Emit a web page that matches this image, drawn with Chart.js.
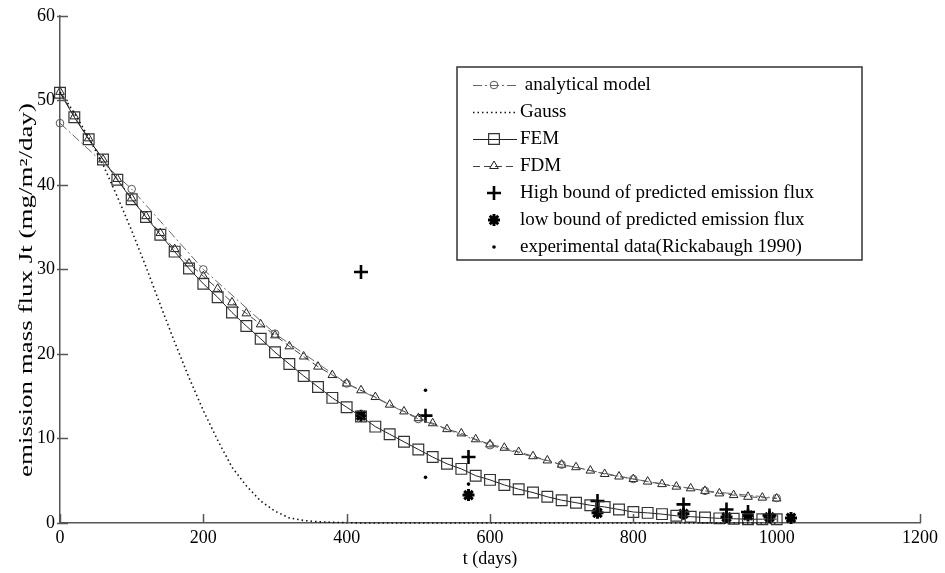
<!DOCTYPE html>
<html>
<head>
<meta charset="utf-8">
<script src="https://cdn.jsdelivr.net/npm/chart.js@4.4.0/dist/chart.umd.min.js"></script>
<style>
  html, body { margin: 0; padding: 0; background: #fff; }
</style>
</head>
<body>
<canvas id="flux" width="945" height="573"></canvas>
<script>
// DATA
const analyticDays = [0, 100, 200, 300, 400, 500, 600, 700, 800, 900, 1000];
const analyticFlux = [47.3, 39.5, 30.0, 22.4, 16.5, 12.3, 9.2, 6.9, 5.2, 3.8, 2.95];

const gridDays = [0, 20, 40, 60, 80, 100, 120, 140, 160, 180, 200, 220, 240, 260, 280, 300, 320, 340, 360, 380,
  400, 420, 440, 460, 480, 500, 520, 540, 560, 580, 600, 620, 640, 660, 680, 700, 720, 740, 760, 780,
  800, 820, 840, 860, 880, 900, 920, 940, 960, 980, 1000];

const gaussFlux = [51.0, 48.5, 45.6, 42.4, 38.6, 34.6, 30.3, 25.8, 21.4, 17.2, 13.3, 9.8, 6.6, 4.4, 2.6, 1.4, 0.6, 0.3, 0.15, 0.08,
  0.04, 0, 0, 0, 0, 0, 0, 0, 0, 0, 0, 0, 0, 0, 0, 0, 0, 0, 0, 0,
  0, 0, 0, 0, 0, 0, 0, 0, 0, 0, 0];

const femFlux = [50.9, 48.0, 45.4, 43.0, 40.6, 38.3, 36.2, 34.1, 32.1, 30.1, 28.3, 26.7, 24.9, 23.3, 21.8, 20.2, 18.8, 17.4, 16.1, 14.8,
  13.7, 12.6, 11.4, 10.5, 9.6, 8.7, 7.8, 7.0, 6.4, 5.6, 5.1, 4.5, 4.0, 3.6, 3.1, 2.7, 2.4, 2.1, 1.9, 1.6,
  1.3, 1.2, 1.05, 0.85, 0.75, 0.65, 0.55, 0.5, 0.45, 0.45, 0.45];

const fdmFlux = [51.0, 48.1, 45.5, 43.0, 40.7, 38.4, 36.3, 34.3, 32.4, 30.7, 29.2, 27.7, 26.1, 24.8, 23.5, 22.2, 20.9, 19.7, 18.5, 17.5,
  16.5, 15.7, 14.9, 14.0, 13.2, 12.4, 11.8, 11.1, 10.6, 9.9, 9.3, 8.9, 8.4, 7.9, 7.4, 6.9, 6.6, 6.2, 5.8, 5.5,
  5.2, 4.9, 4.6, 4.3, 4.1, 3.8, 3.5, 3.3, 3.1, 3.0, 2.9];

const highDays = [420, 510, 570, 750, 870, 930, 960, 990];
const highFlux = [29.7, 12.7, 7.8, 2.6, 2.2, 1.6, 1.3, 0.9];

const lowDays = [420, 570, 750, 870, 930, 960, 990, 1020];
const lowFlux = [12.7, 3.3, 1.2, 1.1, 0.7, 0.9, 0.7, 0.6];

const expDays = [510, 510, 570];
const expFlux = [15.7, 5.4, 4.6];

const xTicks = [0, 200, 400, 600, 800, 1000, 1200];
const yTicks = [0, 10, 20, 30, 40, 50, 60];

const legendLabels = [" analytical model", "Gauss", "FEM", "FDM",
  "High bound of predicted emission flux", "low bound of predicted emission flux",
  "experimental data(Rickabaugh 1990)"];

const yTitle = "emission mass flux Jt (mg/m²/day)";

function pts(xs, ys) {
  return xs.map((x, i) => ({ x: x, y: ys[i] }));
}

const serif = "'Liberation Serif', 'DejaVu Serif', serif";

// inward ticks on both axes + stretched y title
const axisExtras = {
  id: "axisExtras",
  afterDraw(chart) {
    const ctx = chart.ctx;
    const xs = chart.scales.x, ys = chart.scales.y;
    const { left, bottom } = chart.chartArea;
    ctx.save();
    ctx.strokeStyle = "#555";
    ctx.lineWidth = 1.5;
    xTicks.forEach(v => {
      const px = Math.round(xs.getPixelForValue(v)) + 0.5;
      ctx.beginPath();
      ctx.moveTo(px, bottom);
      ctx.lineTo(px, bottom - 9);
      ctx.stroke();
    });
    yTicks.forEach(v => {
      const py = Math.round(ys.getPixelForValue(v)) + 0.5;
      ctx.beginPath();
      ctx.moveTo(left - 3, py);
      ctx.lineTo(left + 8, py);
      ctx.stroke();
    });
    ctx.restore();

    ctx.save();
    ctx.translate(27, 290);
    ctx.rotate(-Math.PI / 2);
    ctx.scale(1.5, 1);
    ctx.font = "18px " + serif;
    ctx.fillStyle = "#000";
    ctx.textAlign = "center";
    ctx.textBaseline = "middle";
    ctx.fillText(yTitle, 0, 0);
    ctx.restore();
  }
};

// boxed legend inside the plot
const boxLegend = {
  id: "boxLegend",
  afterDraw(chart) {
    const ctx = chart.ctx;
    const left = 457, top = 67, right = 862, bottom = 260;
    ctx.save();
    ctx.strokeStyle = "#333";
    ctx.lineWidth = 1.5;
    ctx.strokeRect(left, top, right - left, bottom - top);
    const rowY = [85, 112, 139, 166, 193, 220, 247];
    ctx.font = "19px " + serif;
    ctx.textBaseline = "middle";
    chart.data.datasets.forEach((ds, i) => {
      const y = rowY[i];
      const x0 = 473, x1 = 517, xm = 494;
      ctx.save();
      if (ds.showLine) {
        ctx.strokeStyle = ds.borderColor;
        ctx.lineWidth = ds.borderWidth;
        ctx.setLineDash(ds.borderDash || []);
        ctx.beginPath();
        ctx.moveTo(x0, y + 0.5);
        ctx.lineTo(x1, y + 0.5);
        ctx.stroke();
      }
      ctx.setLineDash([]);
      if (ds.pointRadius > 0) {
        ctx.strokeStyle = ds.pointBorderColor;
        ctx.fillStyle = ds.pointBackgroundColor;
        ctx.lineWidth = ds.pointBorderWidth;
        Chart.helpers.drawPoint(ctx, {
          pointStyle: ds.pointStyle, radius: ds.pointRadius,
          borderWidth: ds.pointBorderWidth, rotation: 0
        }, xm, y);
      }
      ctx.restore();
      ctx.fillStyle = "#000";
      ctx.fillText(legendLabels[i], 520, y);
    });
    ctx.restore();
  }
};

const fluxChart = new Chart(document.getElementById("flux").getContext("2d"), {
  type: "scatter",
  data: {
    datasets: [
      {
        label: legendLabels[0],
        data: pts(analyticDays, analyticFlux),
        showLine: true,
        borderColor: "#666",
        borderWidth: 1,
        borderDash: [9, 3, 2, 3],
        pointStyle: "circle",
        pointRadius: 3.8,
        pointBorderColor: "#555",
        pointBackgroundColor: "rgba(0,0,0,0)",
        pointBorderWidth: 1,
      },
      {
        label: legendLabels[1],
        data: pts(gridDays, gaussFlux),
        showLine: true,
        borderColor: "#111",
        borderWidth: 1.6,
        borderDash: [1.5, 3],
        pointRadius: 0,
      },
      {
        label: legendLabels[2],
        data: pts(gridDays, femFlux),
        showLine: true,
        borderColor: "#222",
        borderWidth: 1,
        pointStyle: "rect",
        pointRadius: 7.6,
        pointBorderColor: "#333",
        pointBackgroundColor: "rgba(0,0,0,0)",
        pointBorderWidth: 1.2,
      },
      {
        label: legendLabels[3],
        data: pts(gridDays, fdmFlux),
        showLine: true,
        borderColor: "#444",
        borderWidth: 1,
        borderDash: [7, 4],
        pointStyle: "triangle",
        pointRadius: 5,
        pointBorderColor: "#222",
        pointBackgroundColor: "rgba(0,0,0,0)",
        pointBorderWidth: 1,
      },
      {
        label: legendLabels[4],
        data: pts(highDays, highFlux),
        showLine: false,
        pointStyle: "cross",
        pointRadius: 7,
        pointBorderColor: "#000",
        pointBackgroundColor: "#000",
        pointBorderWidth: 2.6,
      },
      {
        label: legendLabels[5],
        data: pts(lowDays, lowFlux),
        showLine: false,
        pointStyle: "star",
        pointRadius: 6,
        pointBorderColor: "#000",
        pointBackgroundColor: "#000",
        pointBorderWidth: 3,
      },
      {
        label: legendLabels[6],
        data: pts(expDays, expFlux),
        showLine: false,
        pointStyle: "circle",
        pointRadius: 1.8,
        pointBorderColor: "#000",
        pointBackgroundColor: "#000",
        pointBorderWidth: 0,
      },
    ],
  },
  options: {
    responsive: false,
    animation: false,
    clip: false,
    layout: { padding: { top: 15, right: 25, left: 0, bottom: 0 } },
    plugins: {
      legend: { display: false },
      tooltip: { enabled: false },
    },
    scales: {
      x: {
        type: "linear",
        min: 0,
        max: 1200,
        afterBuildTicks: s => { s.ticks = xTicks.map(v => ({ value: v })); },
        afterFit: s => { s.height = 50; },
        ticks: { color: "#000", font: { family: serif, size: 18 }, padding: 4, maxRotation: 0, callback: v => String(v) },
        grid: { display: false, drawTicks: false },
        border: { display: true, color: "#555", width: 1.5 },
        title: { display: true, text: "t (days)", color: "#000", font: { family: serif, size: 18 }, padding: { top: 0, bottom: 3 } },
      },
      y: {
        min: 0,
        max: 60,
        afterBuildTicks: s => { s.ticks = yTicks.map(v => ({ value: v })); },
        afterFit: s => { s.width = 60; },
        ticks: { color: "#000", font: { family: serif, size: 18 }, padding: 5 },
        grid: { display: false, drawTicks: false },
        border: { display: true, color: "#555", width: 1.5 },
        title: { display: false },
      },
    },
  },
  plugins: [axisExtras, boxLegend],
});
</script>
</body>
</html>
